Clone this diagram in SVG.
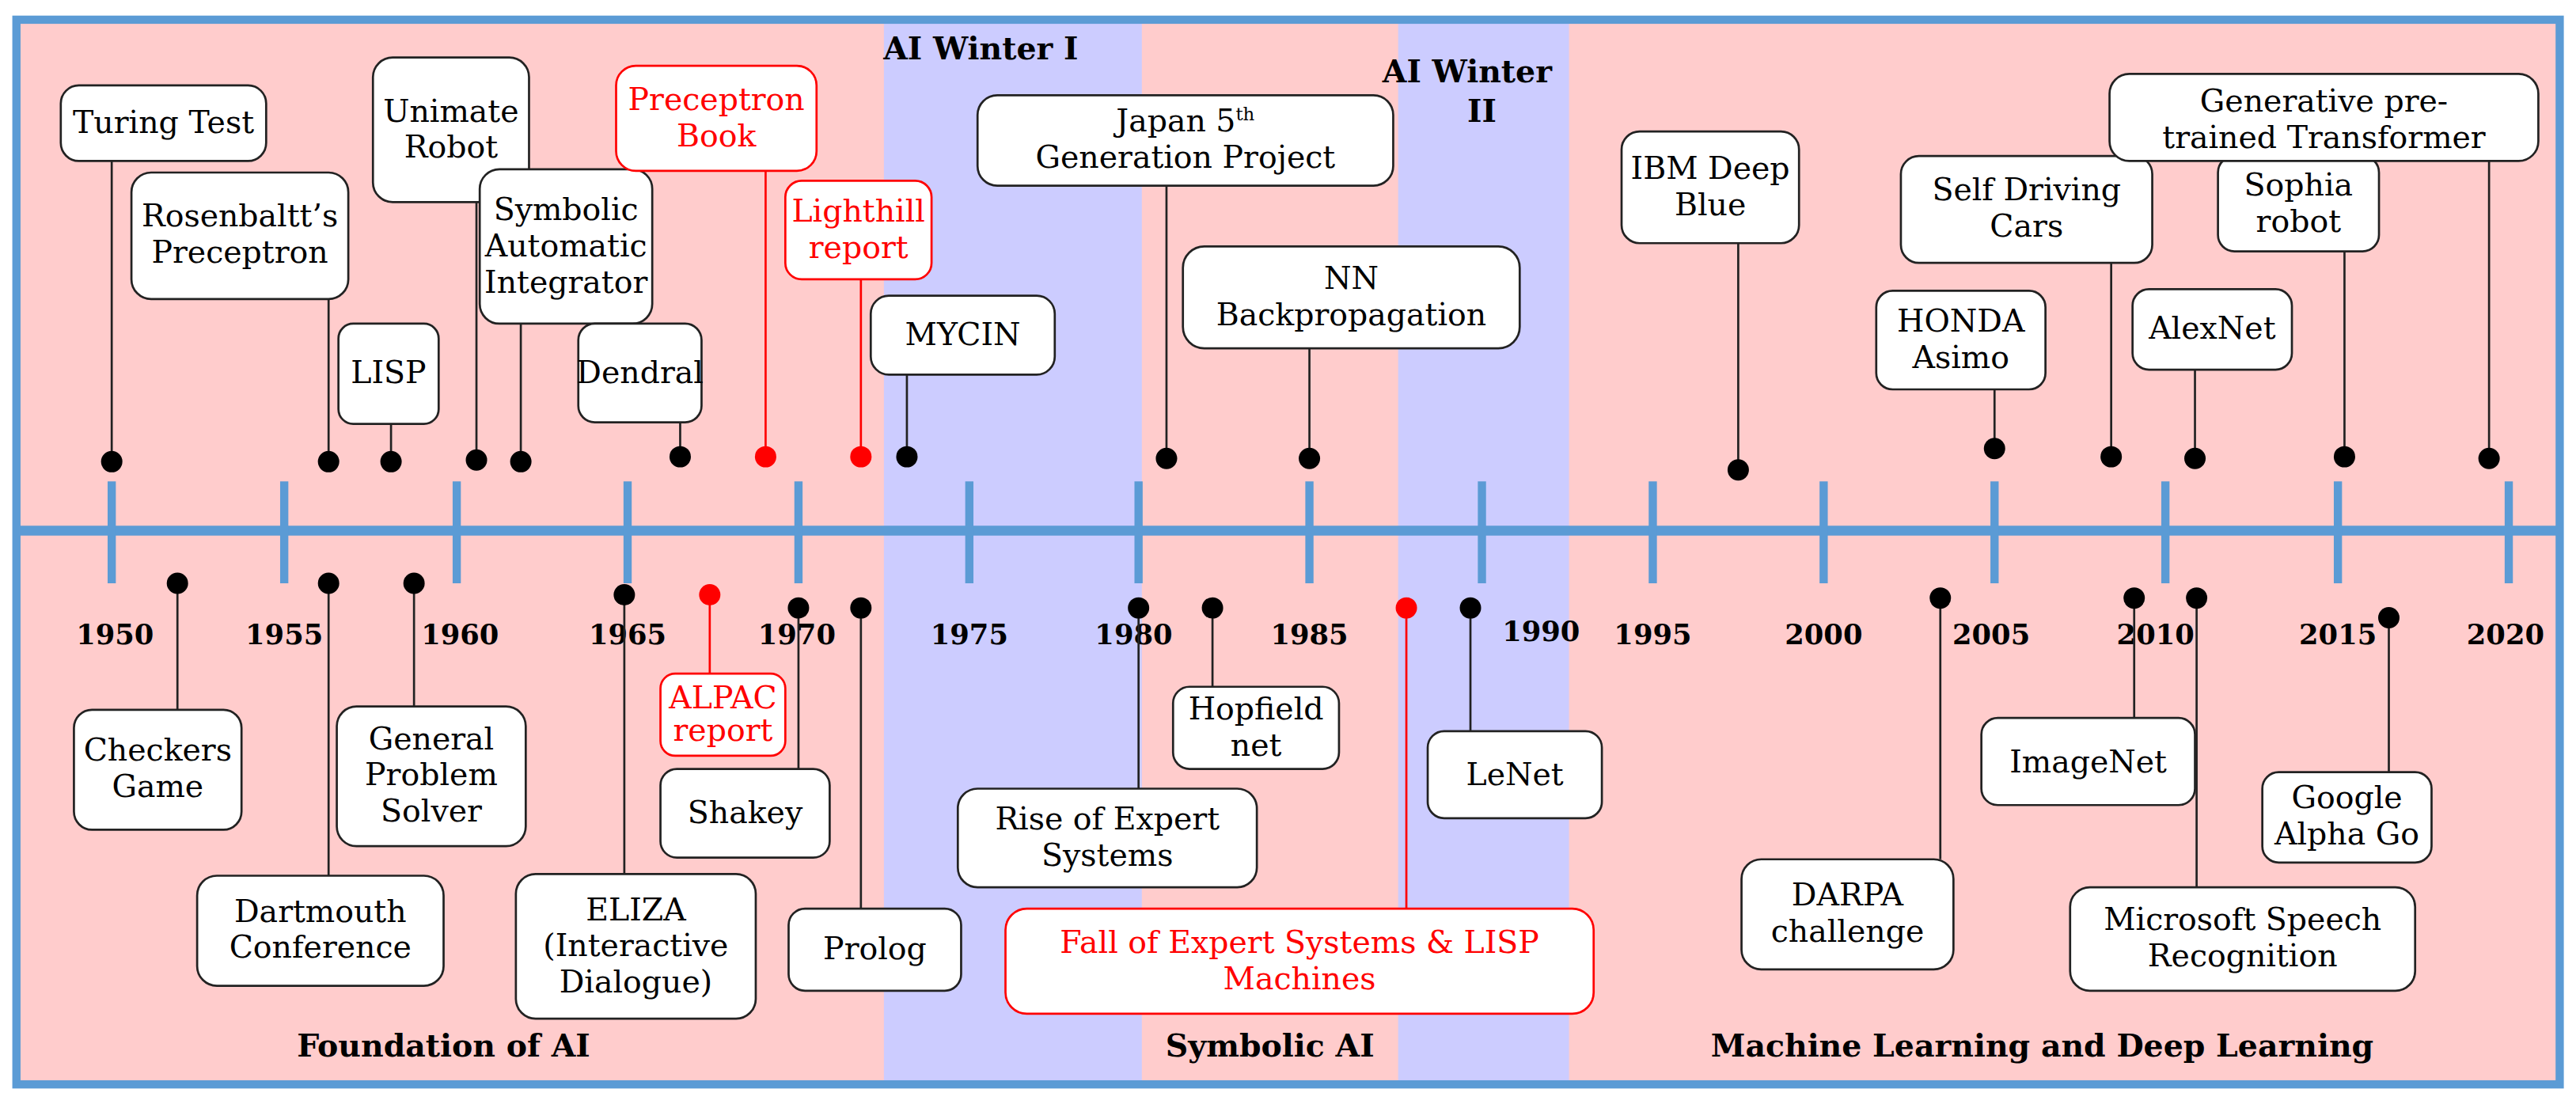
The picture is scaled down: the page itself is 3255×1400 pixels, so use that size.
<svg xmlns="http://www.w3.org/2000/svg" width="3255" height="1400" viewBox="0 0 3255 1400">
<style>
text{font-family:"DejaVu Serif","Liberation Serif",serif;font-size:19px;fill:#000;text-anchor:middle}
.box{fill:#fff;stroke:#222;stroke-width:1.3}
.rbox{fill:#fff;stroke:#f00;stroke-width:1.3}
.r{fill:#f00}
.ln{stroke:#222;stroke-width:1.3}
.rl{stroke:#f00;stroke-width:1.3}
.dot{fill:#000}
.rdot{fill:#f00}
.tick{stroke:#5b9bd5;stroke-width:5}
.yr{font-weight:bold;font-size:17px}
</style>
<rect width="3255" height="1400" fill="#fff"/>
<g transform="scale(2.076)">
<g id="background">
<rect x="10" y="12" width="1548" height="648" fill="#ffcccc"/>
<rect x="538" y="12" width="157" height="648" fill="#ccccff"/>
<rect x="851" y="12" width="104" height="648" fill="#ccccff"/>
<rect x="10" y="12" width="1548" height="648" fill="none" stroke="#5b9bd5" stroke-width="5"/>
<text x="597" y="36" font-weight="bold" font-size="18">AI Winter I</text>
<text x="893" y="50" font-size="16" font-weight="bold">AI Winter</text>
<text x="902" y="74" font-size="16" font-weight="bold">II</text>
<text x="270" y="643" font-weight="bold" font-size="18">Foundation of AI</text>
<text x="773" y="643" font-weight="bold" font-size="18">Symbolic AI</text>
<text x="1243" y="643" font-weight="bold" font-size="18">Machine Learning and Deep Learning</text>
</g>
<g id="axis">
<line x1="10" y1="323" x2="1558" y2="323" stroke="#5b9bd5" stroke-width="6"/>
<line class="tick" x1="68" y1="293" x2="68" y2="355"/><line class="tick" x1="173" y1="293" x2="173" y2="355"/><line class="tick" x1="278" y1="293" x2="278" y2="355"/><line class="tick" x1="382" y1="293" x2="382" y2="355"/><line class="tick" x1="486" y1="293" x2="486" y2="355"/><line class="tick" x1="590" y1="293" x2="590" y2="355"/><line class="tick" x1="693" y1="293" x2="693" y2="355"/><line class="tick" x1="797" y1="293" x2="797" y2="355"/><line class="tick" x1="902" y1="293" x2="902" y2="355"/><line class="tick" x1="1006" y1="293" x2="1006" y2="355"/><line class="tick" x1="1110" y1="293" x2="1110" y2="355"/><line class="tick" x1="1214" y1="293" x2="1214" y2="355"/><line class="tick" x1="1318" y1="293" x2="1318" y2="355"/><line class="tick" x1="1423" y1="293" x2="1423" y2="355"/><line class="tick" x1="1527" y1="293" x2="1527" y2="355"/>
<text class="yr" x="70" y="392">1950</text><text class="yr" x="173" y="392">1955</text><text class="yr" x="280" y="392">1960</text><text class="yr" x="382" y="392">1965</text><text class="yr" x="485" y="392">1970</text><text class="yr" x="590" y="392">1975</text><text class="yr" x="690" y="392">1980</text><text class="yr" x="797" y="392">1985</text><text class="yr" x="938" y="390">1990</text><text class="yr" x="1006" y="392">1995</text><text class="yr" x="1110" y="392">2000</text><text class="yr" x="1212" y="392">2005</text><text class="yr" x="1312" y="392">2010</text><text class="yr" x="1423" y="392">2015</text><text class="yr" x="1525" y="392">2020</text>
</g>
<g id="connectors">
<line class="ln" x1="68" y1="98" x2="68" y2="281"/><line class="ln" x1="200" y1="182" x2="200" y2="281"/><line class="ln" x1="238" y1="258" x2="238" y2="281"/><line class="ln" x1="290" y1="123" x2="290" y2="280"/><line class="ln" x1="317" y1="197" x2="317" y2="281"/><line class="ln" x1="414" y1="257" x2="414" y2="278"/><line class="rl" x1="466" y1="104" x2="466" y2="278"/><line class="rl" x1="524" y1="170" x2="524" y2="278"/><line class="ln" x1="552" y1="228" x2="552" y2="278"/><line class="ln" x1="710" y1="113" x2="710" y2="279"/><line class="ln" x1="797" y1="212" x2="797" y2="279"/><line class="ln" x1="1058" y1="148" x2="1058" y2="286"/><line class="ln" x1="1214" y1="237" x2="1214" y2="273"/><line class="ln" x1="1285" y1="160" x2="1285" y2="278"/><line class="ln" x1="1336" y1="225" x2="1336" y2="279"/><line class="ln" x1="1427" y1="153" x2="1427" y2="278"/><line class="ln" x1="1515" y1="98" x2="1515" y2="279"/>
<line class="ln" x1="108" y1="355" x2="108" y2="432"/><line class="ln" x1="200" y1="355" x2="200" y2="533"/><line class="ln" x1="252" y1="355" x2="252" y2="430"/><line class="ln" x1="380" y1="362" x2="380" y2="532"/><line class="rl" x1="432" y1="362" x2="432" y2="410"/><line class="ln" x1="486" y1="370" x2="486" y2="468"/><line class="ln" x1="524" y1="370" x2="524" y2="553"/><line class="ln" x1="693" y1="370" x2="693" y2="480"/><line class="ln" x1="738" y1="370" x2="738" y2="418"/><line class="rl" x1="856" y1="370" x2="856" y2="553"/><line class="ln" x1="895" y1="370" x2="895" y2="445"/><line class="ln" x1="1181" y1="364" x2="1181" y2="523"/><line class="ln" x1="1299" y1="364" x2="1299" y2="437"/><line class="ln" x1="1337" y1="364" x2="1337" y2="540"/><line class="ln" x1="1454" y1="376" x2="1454" y2="470"/>
<circle class="dot" cx="68" cy="281" r="6.5"/><circle class="dot" cx="200" cy="281" r="6.5"/><circle class="dot" cx="238" cy="281" r="6.5"/><circle class="dot" cx="290" cy="280" r="6.5"/><circle class="dot" cx="317" cy="281" r="6.5"/><circle class="dot" cx="414" cy="278" r="6.5"/><circle class="rdot" cx="466" cy="278" r="6.5"/><circle class="rdot" cx="524" cy="278" r="6.5"/><circle class="dot" cx="552" cy="278" r="6.5"/><circle class="dot" cx="710" cy="279" r="6.5"/><circle class="dot" cx="797" cy="279" r="6.5"/><circle class="dot" cx="1058" cy="286" r="6.5"/><circle class="dot" cx="1214" cy="273" r="6.5"/><circle class="dot" cx="1285" cy="278" r="6.5"/><circle class="dot" cx="1336" cy="279" r="6.5"/><circle class="dot" cx="1427" cy="278" r="6.5"/><circle class="dot" cx="1515" cy="279" r="6.5"/>
<circle class="dot" cx="108" cy="355" r="6.5"/><circle class="dot" cx="200" cy="355" r="6.5"/><circle class="dot" cx="252" cy="355" r="6.5"/><circle class="dot" cx="380" cy="362" r="6.5"/><circle class="rdot" cx="432" cy="362" r="6.5"/><circle class="dot" cx="486" cy="370" r="6.5"/><circle class="dot" cx="524" cy="370" r="6.5"/><circle class="dot" cx="693" cy="370" r="6.5"/><circle class="dot" cx="738" cy="370" r="6.5"/><circle class="rdot" cx="856" cy="370" r="6.5"/><circle class="dot" cx="895" cy="370" r="6.5"/><circle class="dot" cx="1181" cy="364" r="6.5"/><circle class="dot" cx="1299" cy="364" r="6.5"/><circle class="dot" cx="1337" cy="364" r="6.5"/><circle class="dot" cx="1454" cy="376" r="6.5"/>
</g>
<g id="turing"><rect class="box" x="37" y="52" width="125" height="46" rx="11"/><text x="99.5" y="81">Turing Test</text></g>
<g id="rosenblatt"><rect class="box" x="80" y="105" width="132" height="77" rx="12"/><text x="146" y="138">Rosenbaltt’s</text><text x="146" y="160">Preceptron</text></g>
<g id="lisp"><rect class="box" x="206" y="197" width="61" height="61" rx="9"/><text x="236.5" y="233">LISP</text></g>
<g id="unimate"><rect class="box" x="227" y="35" width="95" height="88" rx="12"/><text x="274.5" y="74">Unimate</text><text x="274.5" y="96">Robot</text></g>
<g id="symbolic"><rect class="box" x="292" y="103" width="105" height="94" rx="12"/><text x="344.5" y="134">Symbolic</text><text x="344.5" y="156">Automatic</text><text x="344.5" y="178">Integrator</text></g>
<g id="dendral"><rect class="box" x="352" y="197" width="75" height="60" rx="10"/><text x="389.5" y="233">Dendral</text></g>
<g id="preceptronbook"><rect class="rbox" x="375" y="40" width="122" height="64" rx="12"/><text class="r" x="436" y="67">Preceptron</text><text class="r" x="436" y="89">Book</text></g>
<g id="lighthill"><rect class="rbox" x="478" y="110" width="89" height="60" rx="10"/><text class="r" x="522.5" y="135">Lighthill</text><text class="r" x="522.5" y="157">report</text></g>
<g id="mycin"><rect class="box" x="530" y="180" width="112" height="48" rx="11"/><text x="586" y="210">MYCIN</text></g>
<g id="japan"><rect class="box" x="595" y="58" width="253" height="55" rx="12"/><text x="721.5" y="80">Japan 5<tspan font-size="11" dy="-7">th</tspan></text><text x="721.5" y="102">Generation Project</text></g>
<g id="nn"><rect class="box" x="720" y="150" width="205" height="62" rx="13"/><text x="822.5" y="176">NN</text><text x="822.5" y="198">Backpropagation</text></g>
<g id="ibm"><rect class="box" x="987" y="80" width="108" height="68" rx="11"/><text x="1041" y="109">IBM Deep</text><text x="1041" y="131">Blue</text></g>
<g id="honda"><rect class="box" x="1142" y="177" width="103" height="60" rx="10"/><text x="1193.5" y="202">HONDA</text><text x="1193.5" y="224">Asimo</text></g>
<g id="selfdriving"><rect class="box" x="1157" y="95" width="153" height="65" rx="11"/><text x="1233.5" y="122">Self Driving</text><text x="1233.5" y="144">Cars</text></g>
<g id="alexnet"><rect class="box" x="1298" y="176" width="97" height="49" rx="10"/><text x="1346.5" y="206">AlexNet</text></g>
<g id="sophia"><rect class="box" x="1350" y="95" width="98" height="58" rx="10"/><text x="1399" y="119">Sophia</text><text x="1399" y="141">robot</text></g>
<g id="gpt"><rect class="box" x="1284" y="45" width="261" height="53" rx="12"/><text x="1414.5" y="68">Generative pre-</text><text x="1414.5" y="90">trained Transformer</text></g>
<g id="checkers"><rect class="box" x="45" y="432" width="102" height="73" rx="11"/><text x="96" y="463">Checkers</text><text x="96" y="485">Game</text></g>
<g id="dartmouth"><rect class="box" x="120" y="533" width="150" height="67" rx="12"/><text x="195" y="561">Dartmouth</text><text x="195" y="583">Conference</text></g>
<g id="gps"><rect class="box" x="205" y="430" width="115" height="85" rx="12"/><text x="262.5" y="456">General</text><text x="262.5" y="478">Problem</text><text x="262.5" y="500">Solver</text></g>
<g id="eliza"><rect class="box" x="314" y="532" width="146" height="88" rx="12"/><text x="387" y="560">ELIZA</text><text x="387" y="582">(Interactive</text><text x="387" y="604">Dialogue)</text></g>
<g id="alpac"><rect class="rbox" x="402" y="410" width="76" height="50" rx="9"/><text class="r" x="440" y="431" font-size="15">ALPAC</text><text class="r" x="440" y="451" font-size="15">report</text></g>
<g id="shakey"><rect class="box" x="402" y="468" width="103" height="54" rx="10"/><text x="453.5" y="501">Shakey</text></g>
<g id="prolog"><rect class="box" x="480" y="553" width="105" height="50" rx="10"/><text x="532.5" y="584">Prolog</text></g>
<g id="rise"><rect class="box" x="583" y="480" width="182" height="60" rx="12"/><text x="674" y="505">Rise of Expert</text><text x="674" y="527">Systems</text></g>
<g id="hopfield"><rect class="box" x="714" y="418" width="101" height="50" rx="10"/><text x="764.5" y="438">Hopfield</text><text x="764.5" y="460">net</text></g>
<g id="fall"><rect class="rbox" x="612" y="553" width="358" height="64" rx="13"/><text class="r" x="791" y="580">Fall of Expert Systems &amp; LISP</text><text class="r" x="791" y="602">Machines</text></g>
<g id="lenet"><rect class="box" x="869" y="445" width="106" height="53" rx="10"/><text x="922" y="478">LeNet</text></g>
<g id="darpa"><rect class="box" x="1060" y="523" width="129" height="67" rx="12"/><text x="1124.5" y="551">DARPA</text><text x="1124.5" y="573">challenge</text></g>
<g id="imagenet"><rect class="box" x="1206" y="437" width="130" height="53" rx="10"/><text x="1271" y="470">ImageNet</text></g>
<g id="microsoft"><rect class="box" x="1260" y="540" width="210" height="63" rx="12"/><text x="1365" y="566">Microsoft Speech</text><text x="1365" y="588">Recognition</text></g>
<g id="alphago"><rect class="box" x="1377" y="470" width="103" height="55" rx="10"/><text x="1428.5" y="492">Google</text><text x="1428.5" y="514">Alpha Go</text></g>
</g>
</svg>
